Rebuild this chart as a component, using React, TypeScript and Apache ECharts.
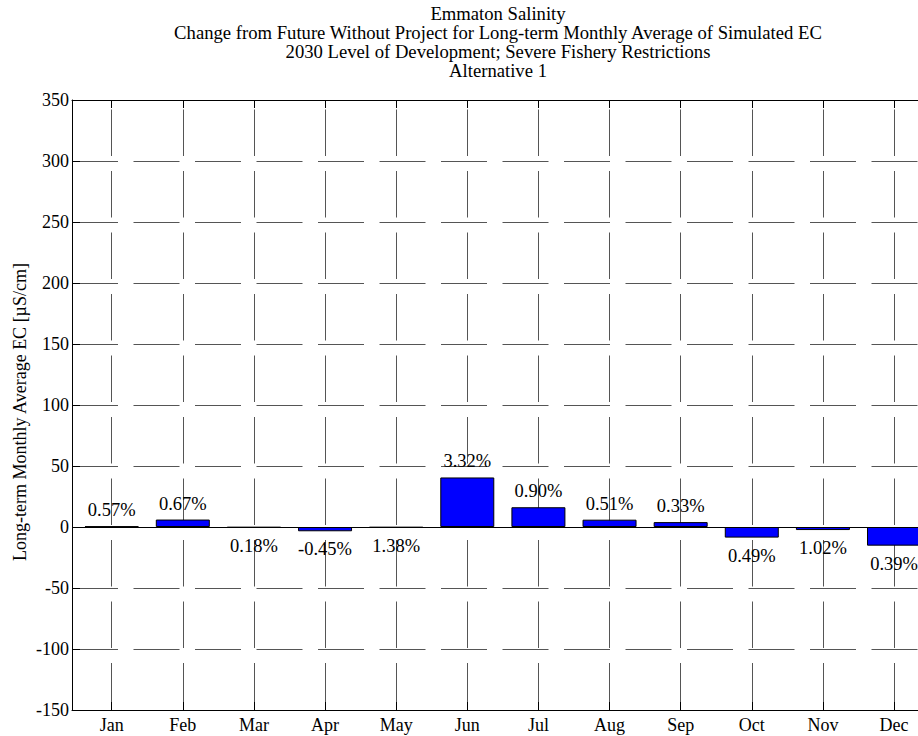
import React, { useEffect, useRef } from "react";
import * as echarts from "echarts";

const months = ["Jan", "Feb", "Mar", "Apr", "May", "Jun", "Jul", "Aug", "Sep", "Oct", "Nov", "Dec"];
const changeValues = [0.5, 6.1, -0.5, -3.5, -0.5, 40.6, 16.2, 6.0, 4.0, -8.7, -2.5, -15.3];
const percentLabels = ["0.57%", "0.67%", "0.18%", "-0.45%", "1.38%", "3.32%", "0.90%", "0.51%", "0.33%", "0.49%", "1.02%", "0.39%"];
const titleLines = [
  "Emmaton Salinity",
  "Change from Future Without Project for Long-term Monthly Average of Simulated EC",
  "2030 Level of Development; Severe Fishery Restrictions",
  "Alternative 1",
];
const yAxisTitle = "Long-term Monthly Average EC [µS/cm]";
const yMin = -150;
const yMax = 350;
const yStep = 50;
const xMin = 0.442;
const xMax = 12.562;

const FONT = "Liberation Serif";

export default function App() {
  const ref = useRef<HTMLDivElement>(null);
  useEffect(() => {
    if (!ref.current) return;
    const chart = echarts.init(ref.current, null, { renderer: "svg" });
    const gridColor = "#555";
    const monthFmt = (v: number) => {
      const r = Math.round(v);
      return Math.abs(v - r) < 1e-6 && r >= 1 && r <= 12 ? months[r - 1] : "";
    };
    const option: any = {
      animation: false,
      backgroundColor: "#fff",
      textStyle: { fontFamily: FONT },
      graphic: [
        ...titleLines.map((t, i) => ({
          type: "text",
          x: 498,
          y: 13 + i * 19,
          silent: true,
          style: {
            text: t,
            fontSize: 18.67,
            fontFamily: FONT,
            fill: "#000",
            align: "center",
            verticalAlign: "middle",
          },
        })),
        {
          type: "text",
          x: 20,
          y: 412,
          rotation: Math.PI / 2,
          silent: true,
          style: {
            text: yAxisTitle,
            fontSize: 18,
            fontFamily: FONT,
            fill: "#000",
            align: "center",
            verticalAlign: "middle",
          },
        },
      ],
      grid: {
        left: 72,
        top: 100,
        width: 862,
        height: 610,
        containLabel: false,
        outerBoundsMode: "none",
      },
      xAxis: [
        {
          type: "value",
          min: xMin,
          max: xMax,
          minInterval: 1,
          maxInterval: 1,
          position: "bottom",
          axisLine: { show: true, onZero: false, lineStyle: { color: "#000", width: 1 } },
          axisTick: { show: true, inside: true, length: 8, lineStyle: { color: "#000" } },
          axisLabel: {
            show: true,
            formatter: monthFmt,
            fontSize: 18,
            fontFamily: FONT,
            color: "#000",
            margin: 6,
            showMinLabel: true,
            showMaxLabel: true,
          },
          splitLine: {
            show: true,
            showMinLine: false,
            showMaxLine: false,
            lineStyle: { color: gridColor, width: 1, type: [46.5, 15], dashOffset: 51.5 },
          },
        },
        {
          type: "value",
          min: xMin,
          max: xMax,
          minInterval: 1,
          maxInterval: 1,
          position: "top",
          axisLine: { show: true, onZero: false, lineStyle: { color: "#000", width: 1 } },
          axisTick: { show: true, inside: true, length: 8, lineStyle: { color: "#000" } },
          axisLabel: { show: false },
          splitLine: { show: false },
        },
      ],
      yAxis: [
        {
          type: "value",
          min: yMin,
          max: yMax,
          interval: yStep,
          position: "left",
          axisLine: { show: true, onZero: false, lineStyle: { color: "#000", width: 1 } },
          axisTick: { show: true, inside: true, length: 8, lineStyle: { color: "#000" } },
          axisLabel: { fontSize: 18, fontFamily: FONT, color: "#000", margin: 3 },
          splitLine: {
            show: true,
            showMinLine: false,
            showMaxLine: false,
            lineStyle: { color: gridColor, width: 1, type: [46, 15.5], dashOffset: 0 },
          },
        },
        {
          type: "value",
          min: yMin,
          max: yMax,
          interval: yStep,
          position: "right",
          axisLine: { show: true, onZero: false, lineStyle: { color: "#000", width: 1 } },
          axisTick: { show: true, inside: true, length: 8, lineStyle: { color: "#000" } },
          axisLabel: { show: false },
          splitLine: { show: false },
        },
      ],
      series: [
        {
          type: "bar",
          xAxisIndex: 0,
          yAxisIndex: 0,
          barWidth: 54,
          itemStyle: { color: "#0000ff", borderColor: "#000", borderWidth: 1 },
          data: months.map((m, i) => {
            const v = changeValues[i];
            return {
              name: m,
              value: [i + 1, v],
              label: {
                show: true,
                position: v >= 0 ? "top" : "bottom",
                distance: v >= 0 ? 6.5 : 8.5,
                formatter: percentLabels[i],
                fontSize: 18.5,
                fontFamily: FONT,
                color: "#000",
              },
            };
          }),
          markLine: {
            silent: true,
            symbol: ["none", "none"],
            label: { show: false },
            lineStyle: { color: "#000", type: "solid", width: 1 },
            data: [{ yAxis: 0 }],
          },
        },
      ],
    };
    chart.setOption(option);
    return () => chart.dispose();
  }, []);
  return (
    <div
      ref={ref}
      style={{ position: "absolute", left: 0, top: 0, width: 918, height: 736, background: "#fff" }}
    />
  );
}
